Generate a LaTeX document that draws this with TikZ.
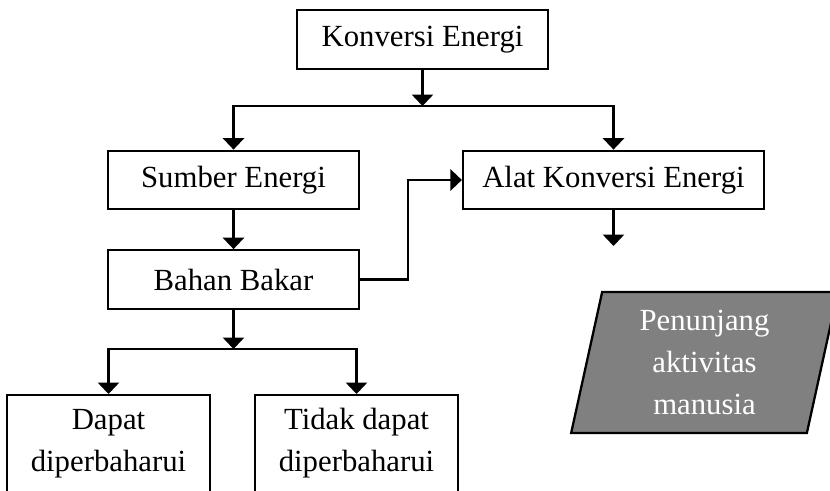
\documentclass[tikz,border=0pt]{standalone}
\usepackage{fontspec}
\setmainfont{Liberation Serif}
\usepackage{tikz}
\usetikzlibrary{arrows.meta}
\usetikzlibrary{shapes.geometric}
\tikzset{
every picture/.style={line width=1.3pt, >={Triangle[length=6.5pt,width=12pt]}},
%%%%%%%%%%  Node styles
box/.style={draw, rectangle, inner sep=2pt, minimum height=1.17cm,
            font=\fontsize{17.5}{24}\selectfont},
wide_box/.style={box, minimum width=5.02cm},
leaf_box/.style={box, align=center, anchor=north, minimum width=4.05cm,
                 minimum height=2.9cm},
output_box/.style={draw, trapezium, trapezium left angle=79.6,
                   trapezium right angle=100.4, trapezium stretches=true,
                   minimum width=5.34cm, minimum height=2.82cm,
                   fill=black!50, text=white, align=center,
                   font=\fontsize{17.5}{24}\selectfont},
%%%% line styles
flow/.style={->},
link/.style={-}
}

\begin{document}
\begin{tikzpicture}[x=0.02cm, y=-0.02cm]
\useasboundingbox (0,0) rectangle (830,490);
\clip (0,0) rectangle (830,490);
\node[wide_box] (konversi) at (422.5,39.5) {Konversi Energi};
\node[wide_box] (sumber) at (233.5,180) {Sumber Energi};
\node[box, minimum width=6.02cm] (alat) at (613.5,180) {Alat Konversi Energi};
\node[wide_box] (bahan) at (233.5,279.5) {Bahan Bakar};
\node[leaf_box] (dapat) at (108.5,394) {Dapat\\diperbaharui\\\strut};
\node[leaf_box] (tidak) at (356.5,394) {Tidak dapat\\diperbaharui\\\strut};
\node[output_box] (penunjang) at (704.5,362.5) {Penunjang\\aktivitas\\manusia};
%%%% junctions
\coordinate (split1) at (422.5,106);
\coordinate (split2) at (233.5,349);
\coordinate (bend) at (408,279.5);
\coordinate (alatout) at (613.5,246);
%%%% connectors
\draw[flow] (konversi) -- (split1);
\draw[flow] (split1) -| (sumber);
\draw[flow] (split1) -| (alat);
\draw[flow] (sumber) -- (bahan);
\draw[flow] (bahan.east) -- (bend) |- (alat.west);
\draw[flow] (alat) -- (alatout);
\draw[flow] (bahan) -- (split2);
\draw[flow] (split2) -| (dapat);
\draw[flow] (split2) -| (tidak);
\end{tikzpicture}
\end{document}
